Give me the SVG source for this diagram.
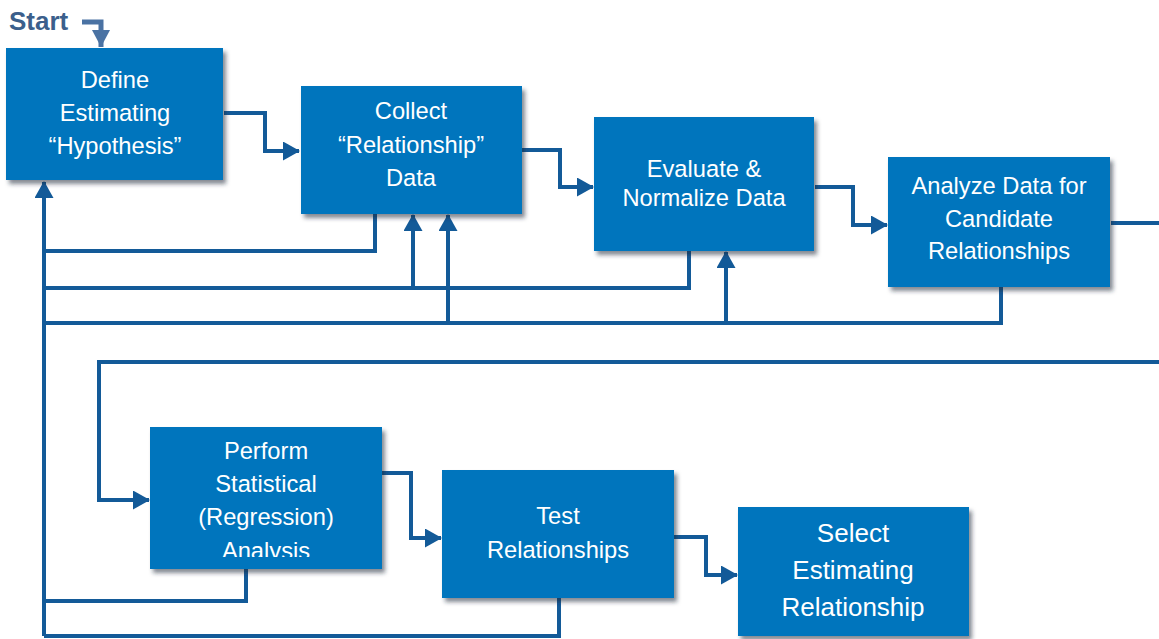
<svg xmlns="http://www.w3.org/2000/svg" width="1159" height="639" viewBox="0 0 1159 639">
<style>
.box{fill:#0575bd;filter:url(#sh);}
.t{font-family:"Liberation Sans",Arial,sans-serif;font-size:23.7px;fill:#ffffff;text-anchor:middle;}
.tb{font-size:26px;}
.c{fill:none;stroke:#135a98;stroke-width:4;}
.st{fill:none;stroke:#4a72a3;stroke-width:5;}
</style>
<defs>
<filter id="sh" x="-10%" y="-10%" width="125%" height="130%">
<feDropShadow dx="3" dy="4" stdDeviation="2" flood-color="#1a2a3a" flood-opacity="0.55"/>
</filter>
<marker id="a" markerUnits="userSpaceOnUse" markerWidth="17" markerHeight="19" refX="16" refY="9.5" orient="auto">
<path d="M0,0 L17,9.5 L0,19 z" fill="#135a98"/>
</marker>
<marker id="as" markerUnits="userSpaceOnUse" markerWidth="18" markerHeight="18" refX="17" refY="9" orient="auto">
<path d="M0,0 L17,9 L0,18 z" fill="#4a72a3"/>
</marker>
<clipPath id="clipP"><rect x="150" y="427" width="232" height="130"/></clipPath>
</defs>

<g id="start">
<text x="9" y="30" style="font-family:'Liberation Sans',Arial,sans-serif;font-size:26px;font-weight:bold;fill:#3b5f8c">Start</text>
<path class="st" d="M82,22 H101 V47" marker-end="url(#as)"/>
</g>

<g id="connectors">
<path class="c" d="M224,113 H265 V151 H299" marker-end="url(#a)"/>
<path class="c" d="M522,150 H560 V187 H593" marker-end="url(#a)"/>
<path class="c" d="M815,187 H853 V225 H887" marker-end="url(#a)"/>
<path class="c" d="M1111,223 H1161"/>
<path class="c" d="M1161,362 H99 V500 H149" marker-end="url(#a)"/>
<path class="c" d="M382,473 H411 V538 H441" marker-end="url(#a)"/>
<path class="c" d="M674,537 H706 V575 H737" marker-end="url(#a)"/>
<path class="c" d="M44,636 V182" marker-end="url(#a)"/>
<path class="c" d="M375,214 V251 H44"/>
<path class="c" d="M689,251 V288 H44"/>
<path class="c" d="M1001,287 V323 H44"/>
<path class="c" d="M413,288 V215" marker-end="url(#a)"/>
<path class="c" d="M448,323 V215" marker-end="url(#a)"/>
<path class="c" d="M726,323 V252" marker-end="url(#a)"/>
<path class="c" d="M246,569 V601 H44"/>
<path class="c" d="M559,598 V636 H44"/>
</g>

<g id="define">
<rect class="box" x="6" y="48" width="217" height="132"/>
<text class="t" x="115" y="88">Define</text>
<text class="t" x="115" y="121">Estimating</text>
<text class="t" x="115" y="154">“Hypothesis”</text>
</g>

<g id="collect">
<rect class="box" x="301" y="86" width="221" height="128"/>
<text class="t" x="411" y="119">Collect</text>
<text class="t" x="411" y="153">“Relationship”</text>
<text class="t" x="411" y="186">Data</text>
</g>

<g id="evaluate">
<rect class="box" x="594" y="117" width="220" height="134"/>
<text class="t" x="704" y="177">Evaluate &amp;</text>
<text class="t" x="704" y="206">Normalize Data</text>
</g>

<g id="analyze">
<rect class="box" x="888" y="157" width="222" height="130"/>
<text class="t" x="999" y="194">Analyze Data for</text>
<text class="t" x="999" y="227">Candidate</text>
<text class="t" x="999" y="259">Relationships</text>
</g>

<g id="perform">
<rect class="box" x="150" y="427" width="232" height="142"/>
<g clip-path="url(#clipP)">
<text class="t" x="266" y="459">Perform</text>
<text class="t" x="266" y="492">Statistical</text>
<text class="t" x="266" y="525">(Regression)</text>
<text class="t" x="266" y="559">Analysis</text>
</g>
</g>

<g id="test">
<rect class="box" x="442" y="470" width="232" height="128"/>
<text class="t" x="558" y="524">Test</text>
<text class="t" x="558" y="558">Relationships</text>
</g>

<g id="select">
<rect class="box" x="738" y="507" width="231" height="129"/>
<text class="t tb" x="853" y="542">Select</text>
<text class="t tb" x="853" y="579">Estimating</text>
<text class="t tb" x="853" y="616">Relationship</text>
</g>
</svg>
